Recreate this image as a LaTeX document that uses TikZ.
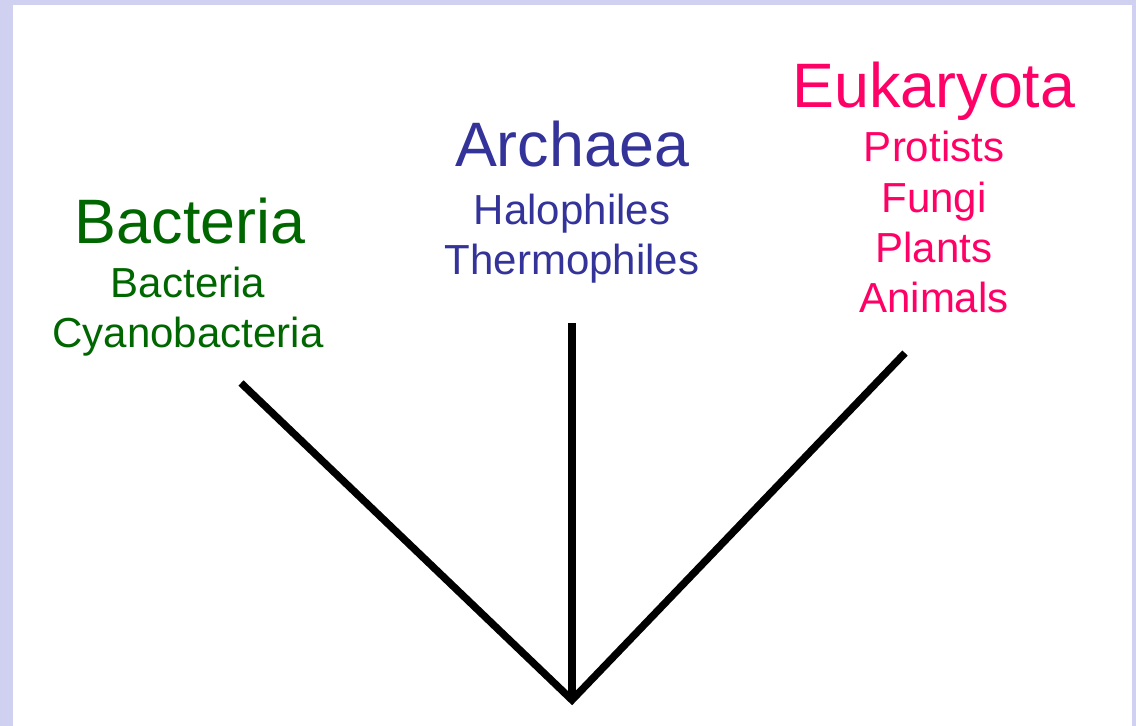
\documentclass[tikz,border=0pt]{standalone}
\usepackage{fontspec}
\setmainfont{Liberation Sans}
\definecolor{bactgreen}{RGB}{0,102,0}
\definecolor{archblue}{RGB}{51,51,153}
\definecolor{eukpink}{RGB}{255,0,102}
\definecolor{framelav}{RGB}{208,208,240}
\tikzset{
  domaintitle/.style={anchor=base, font=\fontsize{31.4}{36}\selectfont},
  members/.style={anchor=base, align=center, font=\fontsize{21}{25.2}\selectfont},
  branch/.style={line width=3.7pt, draw=black}
}
\begin{document}
\begin{tikzpicture}[x=0.5pt, y=-0.5pt]
    % Slide frame
    \fill[framelav] (0,0) rectangle (1136,726);
    \fill[white] (13,5) rectangle (1132,726);
    \useasboundingbox (0,0) rectangle (1136,726);
    % Domains and their groups (list nodes sit on their last line)
    \node[domaintitle, text=bactgreen] (bacteria) at (190,244) {Bacteria};
    \node[members, text=bactgreen] (bactlist) at (188,348) {Bacteria\\Cyanobacteria};
    \node[domaintitle, text=archblue] (archaea) at (572,167) {Archaea};
    \node[members, text=archblue] (archlist) at (572,275) {Halophiles\\Thermophiles};
    \node[domaintitle, text=eukpink] (eukaryota) at (934,108) {Eukaryota};
    \node[members, text=eukpink] (euklist) at (934,313) {Protists\\Fungi\\Plants\\Animals};
    % Tree
    \coordinate (root) at (572,700);
    \coordinate (bacttip) at (241,383);
    \coordinate (archtip) at (572,323);
    \coordinate (euktip) at (905,353);
    \draw[branch] (bacttip) -- (root) -- (euktip);
    \draw[branch] (archtip) -- (root);
\end{tikzpicture}
\end{document}
